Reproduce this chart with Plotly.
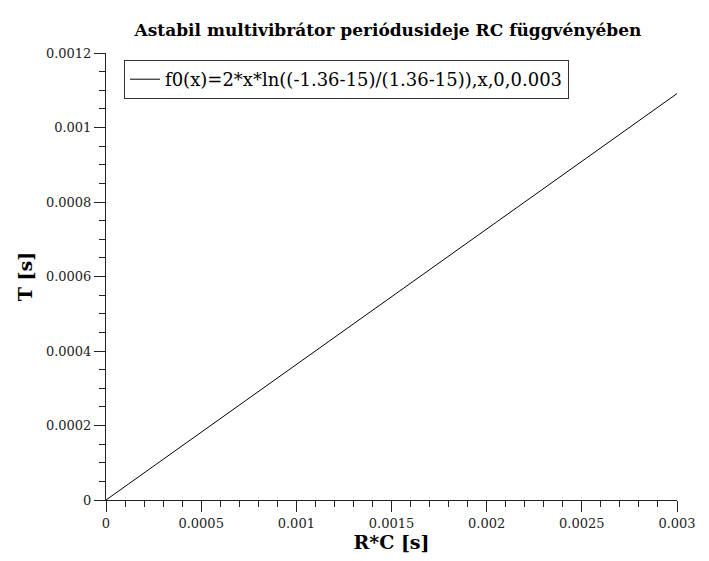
import plotly.graph_objects as go

# data
rc_values = [0.0, 0.003]
period_values = [0.0, 0.001091]
series_name = "f0(x)=2*x*ln((-1.36-15)/(1.36-15)),x,0,0.003"

x_tick_vals = [0, 0.0005, 0.001, 0.0015, 0.002, 0.0025, 0.003]
x_tick_text = ["0", "0.0005", "0.001", "0.0015", "0.002", "0.0025", "0.003"]
y_tick_vals = [0, 0.0002, 0.0004, 0.0006, 0.0008, 0.001, 0.0012]
y_tick_text = ["0", "0.0002", "0.0004", "0.0006", "0.0008", "0.001", "0.0012"]

title_text = "Astabil multivibrátor periódusideje RC függvényében"
x_title = "R*C [s]"
y_title = "T [s]"

FONT = "DejaVu Serif"
INK = "#222222"

# page body has an 8px margin, so the figure is offset by 8px
OFF = 8
L, R, T, B = 106 - OFF, 709 - 677 + OFF, 53 - OFF, 561 - 500 + OFF
W, H = 709, 561

fig = go.Figure()
fig.add_trace(go.Scatter(
    x=rc_values, y=period_values, mode="lines", name=series_name,
    line=dict(color="black", width=1),
))

fig.update_layout(
    width=W, height=H,
    margin=dict(l=L, r=R, t=T, b=B),
    paper_bgcolor="white", plot_bgcolor="white",
    font=dict(family=FONT, color=INK, size=13),
    title=dict(text="<b>" + title_text + "</b>", x=(388 - OFF) / W, xanchor="center",
               y=1 - (30 - OFF) / H, yanchor="middle", font=dict(size=17, family=FONT, color="black")),
    showlegend=True,
    legend=dict(x=(124 - 106) / 571, y=(500 - 60) / 447, xanchor="left", yanchor="top",
                bordercolor="#333333", borderwidth=1, bgcolor="white",
                font=dict(size=18, family=FONT, color="black"),
                itemwidth=30),
)

fig.update_xaxes(
    range=[0, 0.003], showgrid=False, zeroline=False,
    showline=True, linecolor=INK, linewidth=1,
    ticks="outside", ticklen=11, tickcolor=INK,
    tickvals=x_tick_vals, ticktext=x_tick_text,
    tickfont=dict(size=13, family=FONT, color=INK),
    minor=dict(dtick=0.0001, ticks="outside", ticklen=6, tickcolor=INK, showgrid=False),
    title=dict(text="<b>" + x_title + "</b>", font=dict(size=19, family=FONT, color="black"), standoff=6),
)
fig.update_yaxes(
    range=[0, 0.0012], showgrid=False, zeroline=False,
    showline=True, linecolor=INK, linewidth=1,
    ticks="outside", ticklen=11, tickcolor=INK,
    tickvals=y_tick_vals, ticktext=y_tick_text,
    tickfont=dict(size=13, family=FONT, color=INK),
    minor=dict(dtick=0.00005, ticks="outside", ticklen=6, tickcolor=INK, showgrid=False),
    title=dict(text="<b>" + y_title + "</b>", font=dict(size=19, family=FONT, color="black"), standoff=8),
)

fig.write_html("out.html")
